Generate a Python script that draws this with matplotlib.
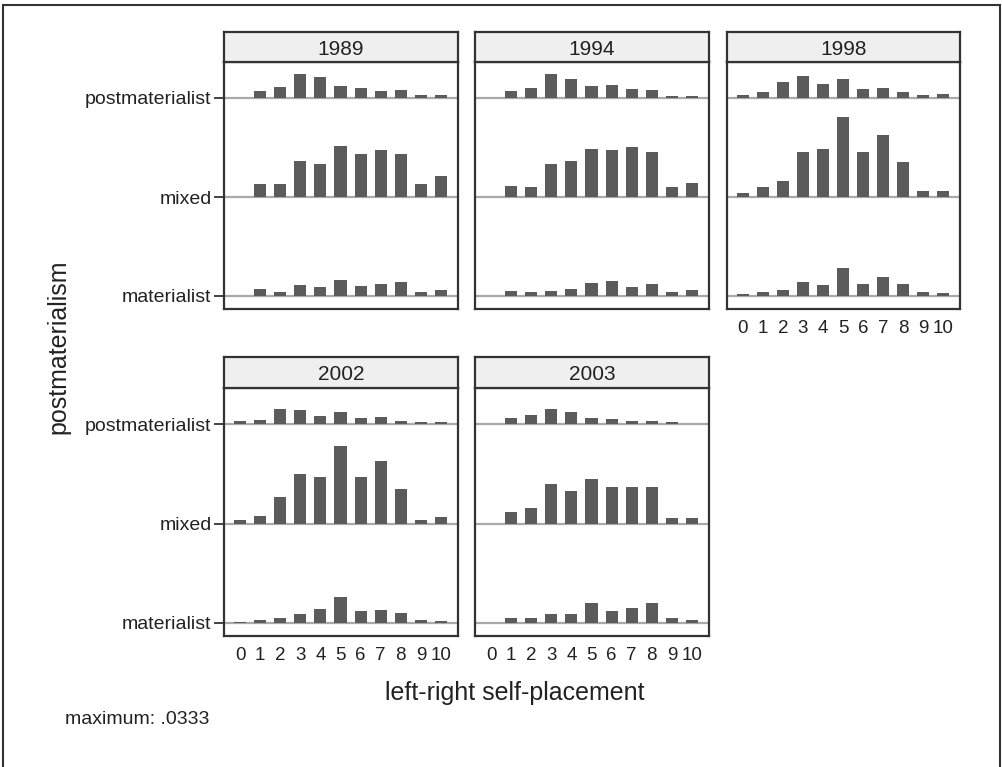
import matplotlib
matplotlib.use('Agg')
import matplotlib.pyplot as plt
from matplotlib.patches import Rectangle

plt.rcParams['font.family'] = ['Liberation Sans', 'DejaVu Sans']

# left-right self-placement scale and postmaterialism groups
scale  = list(range(11))
groups = ['materialist', 'mixed', 'postmaterialist']
years  = ['1989', '1994', '1998', '2002', '2003']

# shares per scale point, one list per year and group
mat_1989  = [0, .0030, .0015, .0046, .0037, .0065, .0043, .0049, .0058, .0015, .0025]
mix_1989  = [0, .0055, .0055, .0149, .0139, .0211, .0178, .0197, .0178, .0053, .0089]
post_1989 = [0, .0030, .0047, .0099, .0089, .0050, .0040, .0030, .0033, .0011, .0011]

mat_1994  = [0, .0020, .0015, .0022, .0028, .0053, .0061, .0037, .0051, .0015, .0025]
mix_1994  = [0, .0046, .0043, .0137, .0149, .0200, .0197, .0208, .0187, .0040, .0060]
post_1994 = [0, .0030, .0043, .0099, .0080, .0050, .0053, .0037, .0033, .0010, .0010]

mat_1998  = [.0008, .0018, .0024, .0058, .0045, .0117, .0049, .0080, .0051, .0018, .0012]
mix_1998  = [.0015, .0042, .0068, .0189, .0201, .0333, .0189, .0257, .0146, .0024, .0026]
post_1998 = [.0014, .0025, .0068, .0090, .0057, .0078, .0039, .0043, .0024, .0011, .0015]

mat_2002  = [.0006, .0011, .0021, .0039, .0057, .0107, .0049, .0054, .0043, .0011, .0010]
mix_2002  = [.0014, .0032, .0112, .0205, .0191, .0323, .0191, .0259, .0142, .0015, .0029]
post_2002 = [.0012, .0018, .0062, .0058, .0035, .0051, .0024, .0029, .0011, .0010, .0008]

mat_2003  = [0, .0021, .0021, .0039, .0037, .0082, .0049, .0064, .0082, .0022, .0012]
mix_2003  = [0, .0047, .0064, .0162, .0134, .0184, .0151, .0151, .0151, .0025, .0025]
post_2003 = [0, .0024, .0039, .0062, .0049, .0026, .0021, .0011, .0011, .0008, 0]

panels = {
    '1989': [mat_1989, mix_1989, post_1989],
    '1994': [mat_1994, mix_1994, post_1994],
    '1998': [mat_1998, mix_1998, post_1998],
    '2002': [mat_2002, mix_2002, post_2002],
    '2003': [mat_2003, mix_2003, post_2003],
}

# layout in pixels
W, H = 1003, 767
cols = [(224, 458), (475, 709), (727, 960)]
rows = [(32, 62, 309), (357, 388, 636)]   # header top, plot top, plot bottom
where = {'1989': (0, 0), '1994': (0, 1), '1998': (0, 2), '2002': (1, 0), '2003': (1, 1)}
xlab_on = {'1998', '2002', '2003'}

BAR   = '#5b5b5b'
LINE  = '#a9a9a9'
FRAME = '#333333'
TXT   = '#222222'
D = .0333 * 99 / 80          # vertical distance between group baselines


def box(x0, y0, x1, y1):
    return [x0 / W, 1 - y1 / H, (x1 - x0) / W, (y1 - y0) / H]


fig = plt.figure(figsize=(W / 100, H / 100), dpi=100)

for yr in years:
    r, c = where[yr]
    x0, x1 = cols[c]
    htop, ptop, pbot = rows[r]

    ax = fig.add_axes(box(x0, ptop, x1, pbot))
    for i, vals in enumerate(panels[yr]):
        ax.axhline(i * D, color=LINE, lw=1.6, zorder=1)
        ax.bar(scale, vals, width=0.6, bottom=i * D, color=BAR, zorder=2)
    ax.set_xlim(-0.8, 10.85)
    ax.set_ylim(-13 / 99 * D, 2 * D + 36 / 99 * D)
    ax.set_yticks([0, D, 2 * D])
    ax.set_xticks(scale)
    for s in ax.spines.values():
        s.set_color(FRAME)
        s.set_linewidth(1.6)

    if c == 0:
        ax.set_yticklabels(groups, fontsize=14, color=TXT)
        ax.tick_params(axis='y', length=7, width=1.3, color=FRAME, pad=2)
    else:
        ax.tick_params(axis='y', length=0, labelleft=False)

    if yr in xlab_on:
        ax.set_xticklabels([str(v) for v in scale], fontsize=13.5, color=TXT)
        ax.tick_params(axis='x', length=0, pad=8)
    else:
        ax.tick_params(axis='x', length=0, labelbottom=False)

    hd = fig.add_axes(box(x0, htop, x1, ptop))
    hd.set_facecolor('#efefef')
    hd.set_xticks([])
    hd.set_yticks([])
    for s in hd.spines.values():
        s.set_color(FRAME)
        s.set_linewidth(1.6)
    hd.text(0.5, 0.42, yr, ha='center', va='center', fontsize=15, color=TXT,
            transform=hd.transAxes)

fig.text(58 / W, 1 - 347 / H, 'postmaterialism', rotation=90, fontsize=18,
         ha='center', va='center', color=TXT)
fig.text(515 / W, 1 - 693 / H, 'left-right self-placement', fontsize=18,
         ha='center', va='center', color=TXT)
fig.text(65 / W, 1 - 720 / H, 'maximum: .0333', fontsize=14,
         ha='left', va='center', color=TXT)

# outer frame
fig.patches.append(Rectangle((3 / W, -0.02), 997 / W, 1 - 5 / H + 0.02,
                             transform=fig.transFigure, fill=False,
                             ec=FRAME, lw=1.5))

fig.savefig('out.png', dpi=100)
